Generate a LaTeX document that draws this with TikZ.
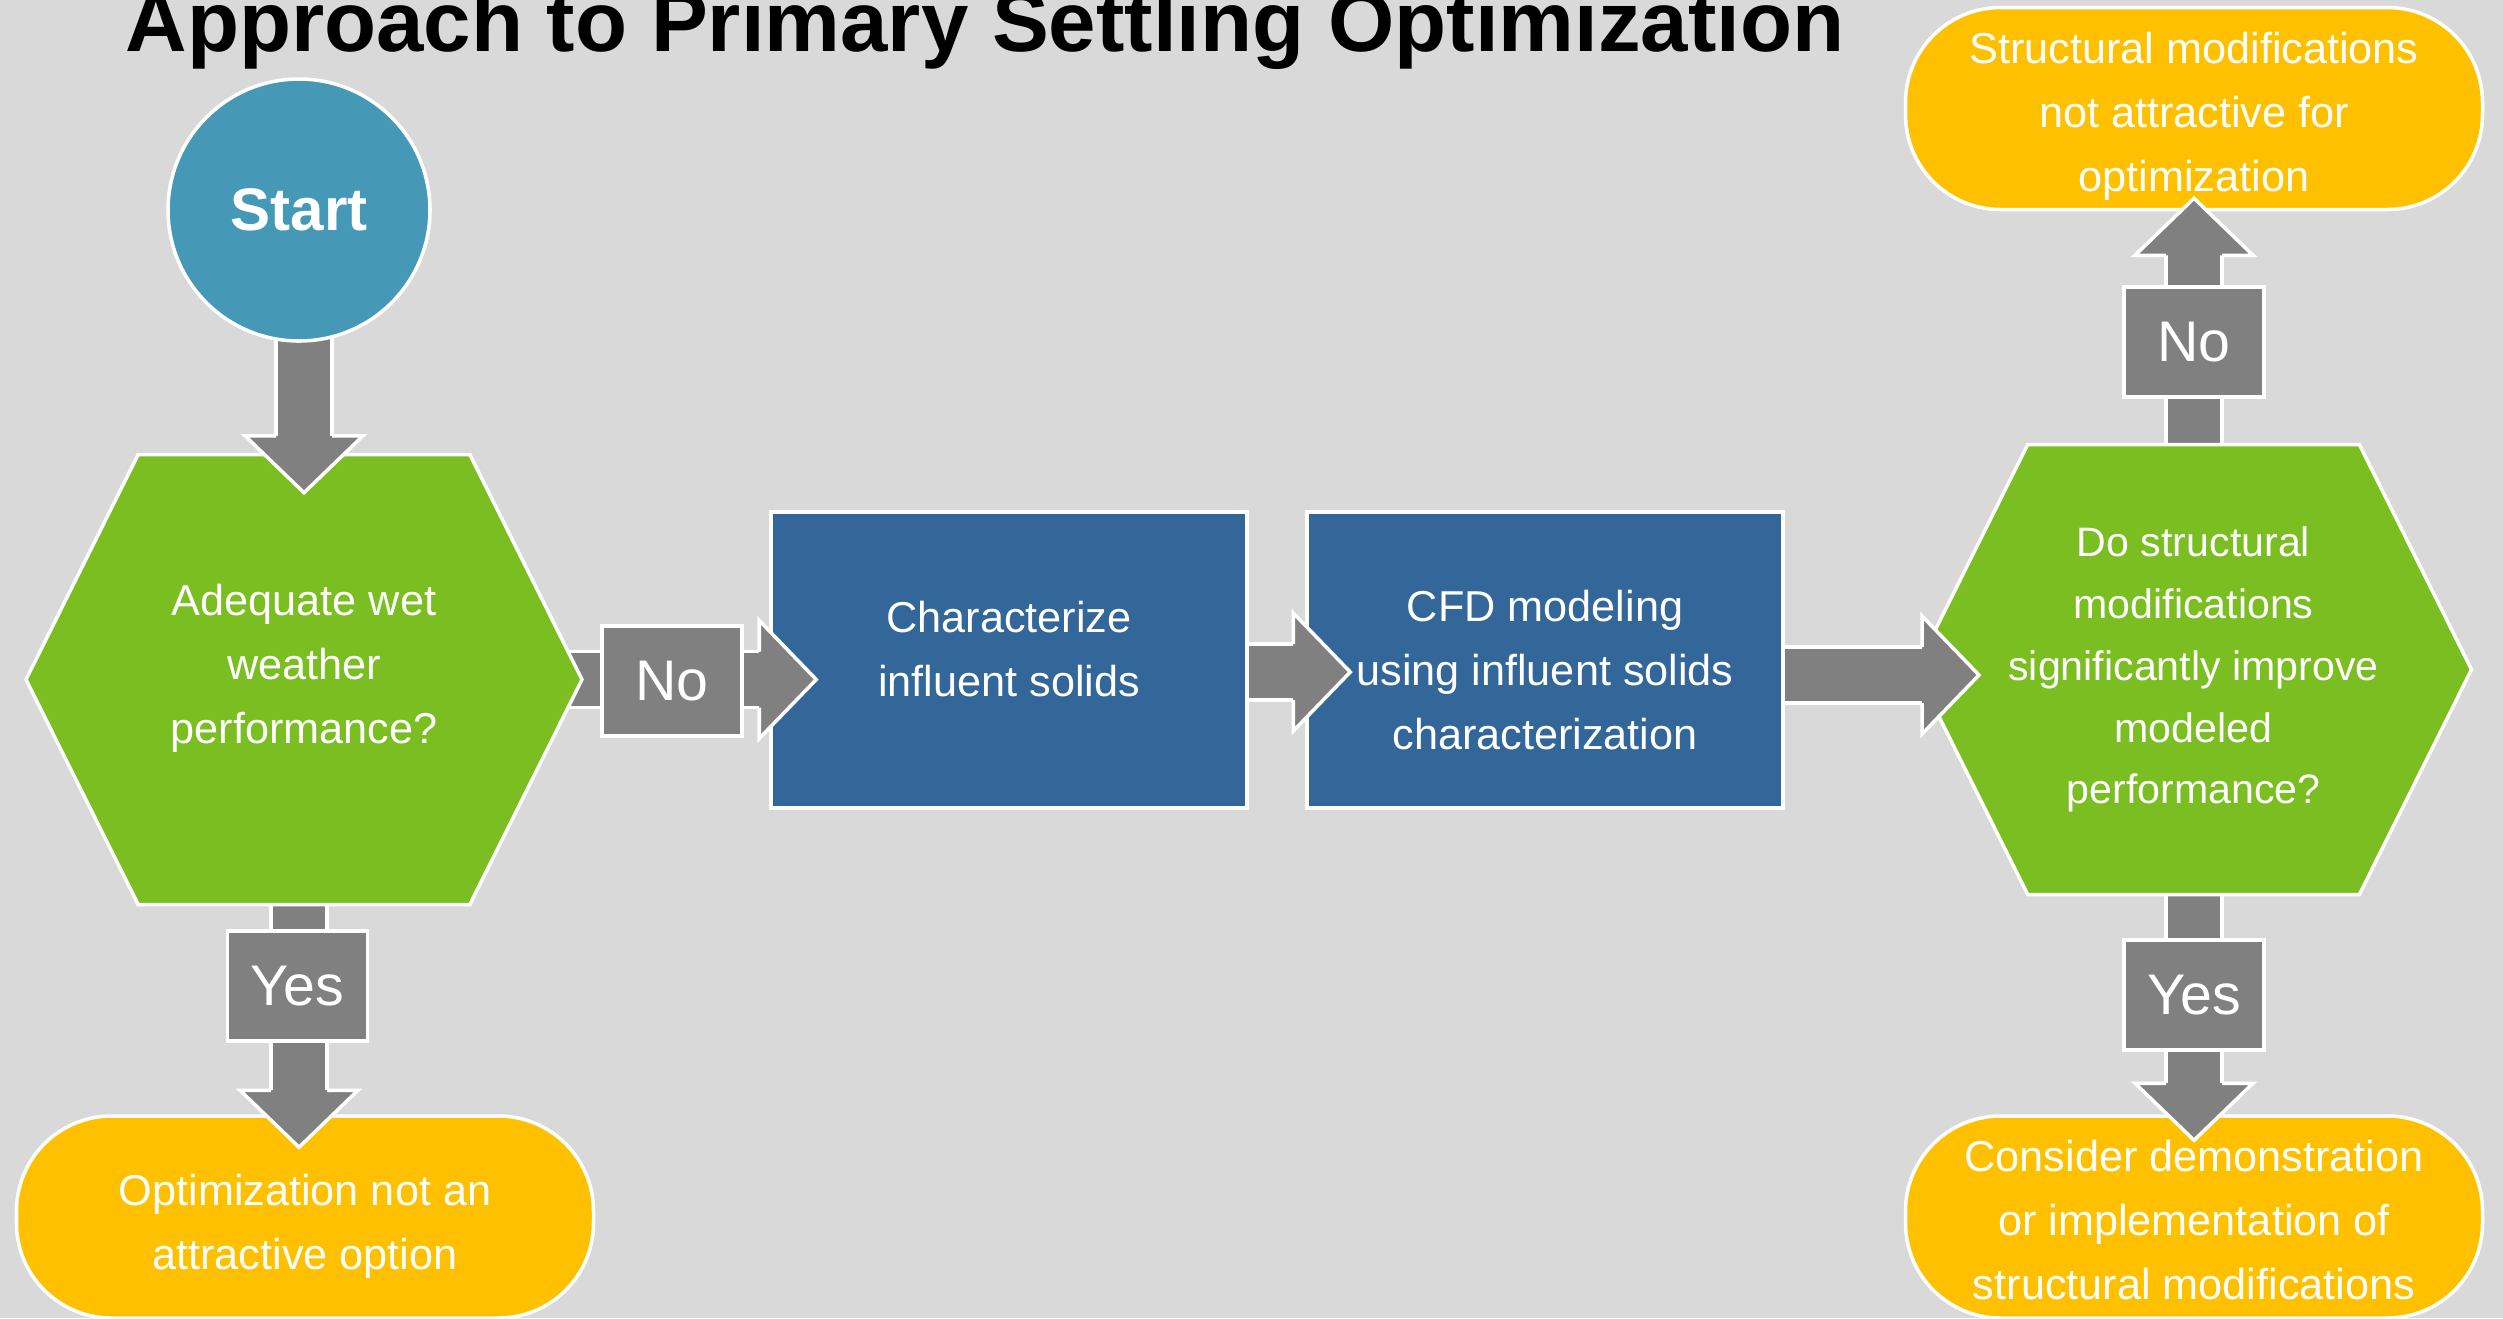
\documentclass[tikz,border=0pt]{standalone}
\usepackage{fontspec}
\setmainfont{Liberation Sans}
\usetikzlibrary{shapes.symbols, positioning, calc}

\definecolor{backgray}{HTML}{D9D9D9}
\definecolor{startblue}{HTML}{4599B7}
\definecolor{qgreen}{HTML}{7ABE22}
\definecolor{stepblue}{HTML}{336699}
\definecolor{endgold}{HTML}{FFC000}
\definecolor{arrowgray}{HTML}{808080}

\pgfdeclarelayer{backdrop}
\pgfdeclarelayer{background}
\pgfsetlayers{backdrop,background,main}

% block arrow: shaft starts behind the source, front part and head on top
\newcommand{\fatarrow}[2]{%
  \coordinate (fa-b) at ($(#2)!0.57cm!(#1)$);
  \coordinate (fa-e) at ($(fa-b)!0.12cm!(#2)$);
  \coordinate (fa-m) at ($(fa-b)!0.3cm!(#1)$);
  \begin{pgfonlayer}{background}
    \filldraw[fat] ($(#1)!0.28cm!90:(#2)$) -- ($(fa-e)!0.28cm!90:(#2)$)
      -- ($(fa-e)!0.28cm!-90:(#2)$) -- ($(#1)!0.28cm!-90:(#2)$) -- cycle;
  \end{pgfonlayer}
  \fill[arrowgray] ($(fa-m)!0.28cm!90:(#2)$) -- ($(fa-e)!0.28cm!90:(#2)$)
    -- ($(fa-e)!0.28cm!-90:(#2)$) -- ($(fa-m)!0.28cm!-90:(#2)$) -- cycle;
  \draw[white, line width=1pt] ($(fa-m)!0.28cm!90:(#2)$) -- ($(fa-b)!0.28cm!90:(#2)$)
    ($(fa-m)!0.28cm!-90:(#2)$) -- ($(fa-b)!0.28cm!-90:(#2)$);
  \filldraw[fat] ($(fa-b)!0.28cm!90:(#2)$) -- ($(fa-b)!0.59cm!90:(#2)$) -- (#2)
    -- ($(fa-b)!0.59cm!-90:(#2)$) -- ($(fa-b)!0.28cm!-90:(#2)$);
}
% strut to push a text block down a little
\newcommand{\topstrut}[1]{\rule{0pt}{#1}}

\begin{document}
\begin{tikzpicture}[
    node distance=0.6cm,
    fat/.style={fill=arrowgray, draw=white, line width=1pt},
    startnode/.style={circle, fill=startblue, draw=white, line width=1pt, minimum size=2.62cm, text=white, font=\fontsize{17.1}{20}\selectfont\bfseries},
    decision/.style={signal, signal to=east and west, signal pointer angle=127, fill=qgreen, draw=white, line width=1pt, minimum width=5.56cm, minimum height=4.5cm, text=white, align=center, font=\fontsize{12.3}{18.2}\selectfont},
    stepbox/.style={rectangle, fill=stepblue, draw=white, line width=1pt, minimum width=4.76cm, minimum height=2.96cm, text=white, align=center, font=\fontsize{12.3}{18.2}\selectfont},
    outcome/.style={rectangle, rounded corners=0.95cm, fill=endgold, draw=white, line width=1pt, minimum width=5.77cm, minimum height=2.02cm, inner ysep=0pt, text=white, align=center, font=\fontsize{12.3}{18.2}\selectfont},
    answer/.style={rectangle, fill=arrowgray, draw=white, line width=1pt, minimum width=1.4cm, minimum height=1.1cm, inner sep=0pt, text=white, font=\fontsize{16.3}{19}\selectfont}
  ]
  \useasboundingbox (0,0) rectangle (25.03,-13.18);
  \begin{pgfonlayer}{backdrop}
    \fill[backgray] (0,0) rectangle (25.03,-13.18);
  \end{pgfonlayer}

  % Title
  \node[anchor=base, font=\fontsize{24.25}{29}\selectfont\bfseries] (title) at (9.85,-0.517) {Approach to Primary Settling Optimization};

  % Left column
  \node[startnode] (start) at (2.99,-2.10) {Start};
  \node[decision, text depth=0.31cm] (adequate) at (3.04,-6.795) {Adequate wet\\weather\\performance?};
  \node[outcome, text depth=0pt] (notattr) at (3.05,-12.17) {\topstrut{0.41cm}Optimization not an\\attractive option};

  % Main row
  \node[stepbox, text depth=0.22cm] (characterize) at (10.09,-6.60) {Characterize\\influent solids};
  \node[stepbox, right=0.565cm of characterize] (cfd) {\topstrut{0.51cm}CFD modeling\\using influent solids\\characterization};
  \node[decision, inner xsep=-0.25cm, font=\fontsize{11.7}{17.6}\selectfont] (improve) at (21.935,-6.695) {Do structural\\modifications\\significantly improve\\modeled\\performance?};

  % Right column
  \node[outcome, text depth=0pt] (structnot) at (21.94,-1.085) {\topstrut{0.38cm}Structural modifications\\not attractive for\\optimization};
  \node[outcome] (consider) at (21.94,-12.17) {\topstrut{0.38cm}Consider demonstration\\or implementation of\\structural modifications};

  % Arrow tips
  \coordinate (tipA) at ($(adequate.north)+(0,-0.40)$);
  \coordinate (tipB) at ($(characterize.west |- adequate.center)+(0.47,0)$);
  \coordinate (tipC) at ($(notattr.north)+(-0.06,-0.33)$);
  \coordinate (tipD) at ($(cfd.west)+(0.45,-0.12)$);
  \coordinate (tipE) at ($(improve.center)+(-2.145,-0.055)$);
  \coordinate (tipF) at ($(structnot.south)+(0,0.13)$);
  \coordinate (tipG) at ($(consider.north)+(0,-0.26)$);

  % Connections
  \fatarrow{start.center -| tipA}{tipA}
  \fatarrow{adequate.center}{tipB}
  \fatarrow{adequate.center -| tipC}{tipC}
  \fatarrow{characterize.center |- tipD}{tipD}
  \fatarrow{cfd.center |- tipE}{tipE}
  \fatarrow{improve.center -| tipF}{tipF}
  \fatarrow{improve.center -| tipG}{tipG}

  % Labels
  \node[answer] (no1) at (6.72,-6.81) {No};
  \node[answer] (yes1) at (2.975,-9.86) {Yes};
  \node[answer] (no2) at (21.94,-3.42) {No};
  \node[answer] (yes2) at (21.94,-9.95) {Yes};
\end{tikzpicture}
\end{document}
